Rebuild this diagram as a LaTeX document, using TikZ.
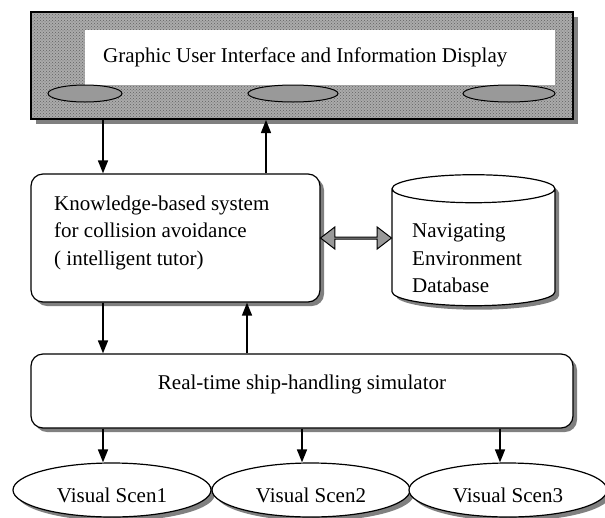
\documentclass[tikz,border=0pt]{standalone}
\usepackage{fontspec}
\setmainfont{Liberation Serif}
\usetikzlibrary{shapes.geometric,shapes.arrows,shadows,patterns,arrows.meta}

\tikzset{
  txt/.style={font=\fontsize{21}{27.5}\selectfont},
  dshadow/.style={drop shadow={shadow xshift=4pt,shadow yshift=-4pt,fill=black!50,opacity=1}},
  box/.style={draw,line width=1.2pt,fill=white,rounded corners=12pt,dshadow,txt},
  scene/.style={ellipse,draw,line width=1.2pt,fill=white,minimum width=198pt,minimum height=54pt,
    inner sep=0pt,dshadow,txt,text height=24pt,text depth=0pt},
  btn/.style={ellipse,draw,line width=1pt,fill=black!40,minimum height=17pt,inner sep=0pt},
  arr/.style={line width=1.4pt,-{Triangle[length=13pt,width=10pt]}}
}

\begin{document}
\begin{tikzpicture}[x=1pt,y=-1pt]
\useasboundingbox (0,0) rectangle (605,517);

% interface panel
\node[draw,line width=2pt,minimum width=542pt,minimum height=107pt,inner sep=0pt,
  drop shadow={shadow xshift=5pt,shadow yshift=-5pt,fill=black!50,opacity=1},
  preaction={fill=black!33},pattern=crosshatch dots,pattern color=black!62] (gui) at (302,65.5) {};
\node[fill=white,minimum width=470pt,minimum height=55pt,inner sep=0pt] (guiwin) at (320,57.5) {};
\node[txt,anchor=base west,inner sep=0pt] (guitext) at (103,62) {Graphic User Interface and Information Display};
\node[btn,minimum width=74pt] (b1) at (85,93.5) {};
\node[btn,minimum width=90pt] (b2) at (293,93.5) {};
\node[btn,minimum width=92pt] (b3) at (509,93.5) {};

% tutor and database
\node[box,minimum width=289pt,minimum height=128pt] (kbs) at (175.5,238) {};
\node[txt,align=left,anchor=north west,inner sep=0pt] (kbstext) at (54,195.7)
  {Knowledge-based system\\for collision avoidance\\( intelligent tutor)};
\node[cylinder,shape border rotate=90,aspect=4.2,draw,line width=1.2pt,fill=white,dshadow,
  minimum width=163pt,minimum height=131pt] (db) at (473.5,249.5) {};
\node[txt,align=left,anchor=north west,inner sep=0pt] (dbtext) at (412,223.7)
  {Navigating\\Environment\\Database};
\path (kbs.east) -- (kbs.east -| db.west) node[midway,double arrow,draw,line width=1pt,fill=black!40,
  inner sep=0pt,minimum width=22pt,minimum height=71pt,double arrow head extend=5pt,
  double arrow tip angle=75] (link) {};

% simulator and scenes
\node[box,minimum width=542pt,minimum height=74pt,text height=14.5pt,text depth=18.5pt] (sim)
  at (302,391) {Real-time ship-handling simulator};
\node[scene] (v1) at (112,490) {Visual Scen1};
\node[scene] (v2) at (311,490) {Visual Scen2};
\node[scene] (v3) at (508,490) {Visual Scen3};

% connectors
\coordinate (xa) at (103,0);
\coordinate (xb) at (266,0);
\coordinate (xc) at (247,0);
\coordinate (xd) at (302,0);
\coordinate (xe) at (500,0);
\draw[arr] (gui.south -| xa) -- (kbs.north -| xa);
\draw[arr] (kbs.north -| xb) -- (gui.south -| xb);
\draw[arr] (kbs.south -| xa) -- (sim.north -| xa);
\draw[arr] (sim.north -| xc) -- (kbs.south -| xc);
\draw[arr] (sim.south -| xa) -- (v1.north -| xa);
\draw[arr] (sim.south -| xd) -- (v2.north -| xd);
\draw[arr] (sim.south -| xe) -- (v3.north -| xe);
\end{tikzpicture}
\end{document}
